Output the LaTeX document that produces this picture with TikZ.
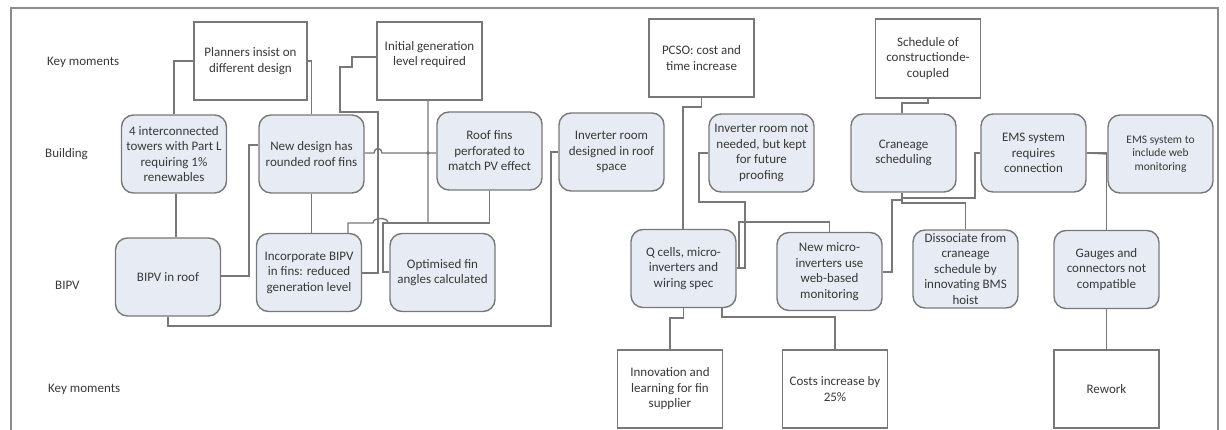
\documentclass[tikz,border=0pt]{standalone}
\usepackage{fontspec}
\setmainfont{Carlito}
\definecolor{ink}{HTML}{383838}
\definecolor{wire}{HTML}{787878}
\definecolor{panel}{HTML}{E7ECF4}

\begin{document}
\begin{tikzpicture}[x=1pt,y=-1pt,
  base/.style={draw=wire, line width=1.4pt, text=ink, align=center,
    font=\fontsize{13}{15.5}\selectfont, minimum width=105pt,
    minimum height=78pt, inner sep=1pt},
  keybox/.style={base, fill=white},
  stage/.style={base, fill=panel, rounded corners=12pt},
  rowlabel/.style={anchor=west, text=ink, font=\fontsize{13}{15.5}\selectfont, inner sep=0pt},
  link/.style={draw=wire, line width=1.4pt},
]
\useasboundingbox (0,0) rectangle (1226,430);

% outer frame
\draw[draw=wire!85, line width=1.3pt] (11,434) -- (11,8) -- (1218,8) -- (1218,434);

% row labels
\node[rowlabel] (lkey)  at (47,62)  {Key moments};
\node[rowlabel] (lbld)  at (45,154) {Building};
\node[rowlabel] (lbipv) at (55,285) {BIPV};
\node[rowlabel] (lkey2) at (48,389) {Key moments};

% key moments (top)
\node[keybox, minimum width=113pt] (plan) at (250.5,61) {Planners insist on\\different design};
\node[keybox] (init) at (429.5,61) {Initial generation\\level required\\[0pt]\mbox{}};
\node[keybox] (pcso) at (701.5,58) {PCSO: cost and\\time increase};
\node[keybox, minimum height=79pt] (sched) at (928,58.5) {Schedule of\\constructionde-\\coupled};

% building stage
\node[stage] (int4)  at (174,154)    {4 interconnected\\towers with Part L\\requiring 1\%\\renewables};
\node[stage] (newd)  at (311.5,154)  {New design has\\rounded roof fins};
\node[stage] (roof)  at (489.5,151)  {Roof fins\\perforated to\\match PV effect};
\node[stage] (invd)  at (611.5,152)  {Inverter room\\designed in roof\\space};
\node[stage] (invn)  at (761.5,153)  {Inverter room not\\needed, but kept\\for future\\proofing};
\node[stage] (crane) at (903.5,153)  {Craneage\\scheduling};
\node[stage] (emsr)  at (1033.5,153) {EMS system\\requires\\connection};
\node[stage, font=\fontsize{11.5}{13.5}\selectfont] (emsi) at (1160.5,154) {EMS system to\\include web\\monitoring};

% BIPV stage
\node[stage] (bipv)  at (168,277)    {BIPV in roof};
\node[stage] (incb)  at (309,272.5)  {Incorporate BIPV\\in fins: reduced\\generation level};
\node[stage] (opt)   at (442.5,272.5){Optimised fin\\angles calculated};
\node[stage] (qc)    at (683.5,268.5){Q cells, micro-\\inverters and\\wiring spec};
\node[stage] (newm)  at (829.5,271.5){New micro-\\inverters use\\web-based\\monitoring};
\node[stage] (diss)  at (965.5,269)  {Dissociate from\\craneage\\schedule by\\innovating BMS\\hoist};
\node[stage] (gauge) at (1106.5,269.5){Gauges and\\connectors not\\compatible};

% key moments (bottom)
\node[keybox] (innov)  at (670,389)    {Innovation and\\learning for fin\\supplier};
\node[keybox] (costs)  at (835,389)    {Costs increase by\\25\%};
\node[keybox] (rework) at (1106.5,389) {Rework};

% connectors, left group
\draw[link] (int4.north) |- (plan.west);
\draw[link] (plan.east) -| (newd.north);
\draw[link] (int4.south -| 176,0) -- (176,0 |- bipv.north);
\draw[link] (bipv.east |- 0,276) -| (249,145) -- (newd.west |- 0,145);
\draw[link] (newd.south) -- (newd.south |- incb.north);
\draw[link] (newd.east |- 0,153) -- (374,153)
  .. controls (374,147) and (382,147) .. (382,153) -- (roof.west |- 0,153);
\draw[link] (init.south -| 428,0) -- (428,223) -- (388,223)
  .. controls (388,217) and (373,217) .. (373,223) -| (348,0 |- incb.north);
\draw[link] (roof.south) -- (roof.south |- 0,223) -| (383,272) -- (opt.west |- 0,272);
\draw[link] (init.west |- 0,57) -| (352,67) -| (340,112) -| (378,273) -- (incb.east |- 0,273);
\draw[link] (bipv.south) |- (551,326) |- (invd.west);
\fill[wire] (428,153) circle (1.8pt);

% connectors, middle group
\draw[link] (pcso.south) |- (683,107) -- (683,0 |- qc.north);
\draw[link] (qc.east |- 0,268) -| (745,202) -| (699,153) -- (invn.west |- 0,153);
\draw[link] (qc.east |- 0,268) -| (739,222) -| (newm.north);
\draw[link] (qc.south) |- (innov.north |- 0,318) -- (innov.north);
\draw[link] (qc.south -| 722,0) |- (costs.north |- 0,317) -- (costs.north);

% connectors, right group
\draw[link] (sched.south) |- (902,103) -- (902,0 |- crane.north);
\draw[link] (crane.south -| 902,0) |- (892,200) |- (newm.east |- 0,272);
\draw[link] (crane.south -| 902,0) |- (diss.north |- 0,203) -- (diss.north);
\draw[link] (emsr.west) -| (975,198) -| (crane.south -| 902,0);
\draw[link] (emsr.east) -- (emsi.west);
\draw[link] (emsr.east) -| (gauge.north);
\draw[link] (gauge.south) -- (rework.north);
\end{tikzpicture}
\end{document}
